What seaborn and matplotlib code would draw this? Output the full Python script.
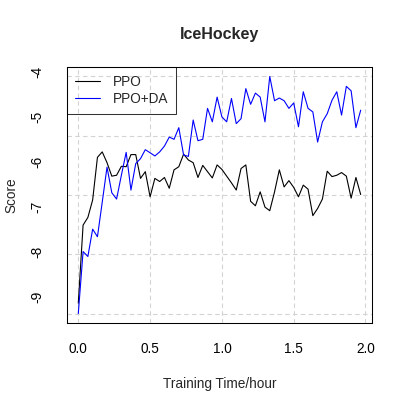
import numpy as np
import pandas as pd
import matplotlib
matplotlib.use("Agg")
import matplotlib.pyplot as plt
import seaborn as sns

# training time in minutes (one evaluation every 2 minutes)
minutes = [0, 2, 4, 6, 8, 10, 12, 14, 16, 18, 20, 22, 24, 26, 28, 30, 32, 34, 36, 38,
           40, 42, 44, 46, 48, 50, 52, 54, 56, 58, 60, 62, 64, 66, 68, 70, 72, 74, 76, 78,
           80, 82, 84, 86, 88, 90, 92, 94, 96, 98, 100, 102, 104, 106, 108, 110, 112, 114, 116, 118]

ppo = [-9.15, -7.41, -7.24, -6.85, -5.90, -5.78, -6.02, -6.32, -6.30, -6.10,
       -6.11, -5.84, -5.84, -6.37, -6.22, -6.78, -6.37, -6.44, -6.35, -6.59,
       -6.18, -6.11, -5.83, -5.96, -6.02, -6.35, -6.08, -6.22, -6.36, -6.07,
       -6.17, -6.32, -6.47, -6.63, -6.15, -6.07, -6.88, -6.98, -6.67, -7.01,
       -7.09, -6.67, -6.18, -6.56, -6.42, -6.57, -6.78, -6.52, -6.61, -7.20,
       -7.04, -6.83, -6.21, -6.33, -6.30, -6.24, -6.32, -6.81, -6.35, -6.73]

ppo_da = [-9.38, -8.00, -8.11, -7.50, -7.67, -6.90, -6.12, -6.69, -6.83, -6.30,
          -5.79, -6.63, -6.04, -5.93, -5.73, -5.80, -5.87, -5.78, -5.65, -5.45,
          -5.50, -5.24, -5.85, -5.88, -5.07, -5.53, -5.50, -4.81, -5.11, -4.56,
          -5.00, -5.11, -4.59, -5.15, -5.04, -4.37, -4.72, -4.47, -4.56, -5.11,
          -4.10, -4.64, -4.58, -4.64, -4.81, -4.69, -5.22, -4.44, -4.81, -4.89,
          -5.56, -5.11, -4.93, -4.63, -4.44, -4.96, -4.32, -4.42, -5.24, -4.85]

x_ticks = [0.0, 0.5, 1.0, 1.5, 2.0]
y_ticks = [-9, -8, -7, -6, -5, -4]

hours = np.array(minutes) / 60.0
df = pd.DataFrame({
    "hours": np.concatenate([hours, hours]),
    "score": ppo + ppo_da,
    "method": ["PPO"] * len(ppo) + ["PPO+DA"] * len(ppo_da),
})

sns.set_style("white")
plt.rcParams["font.family"] = ["Liberation Sans", "DejaVu Sans"]
plt.rcParams["axes.unicode_minus"] = False

fs = 9.8

fig = plt.figure(figsize=(4.07, 4.07), dpi=100)
ax = fig.add_axes([67 / 407, 1 - 323 / 407, 305 / 407, 256 / 407])

# R-style limits: 4% padding around the data range
xr = hours.max() - hours.min()
ymin, ymax = df["score"].min(), df["score"].max()
yr = ymax - ymin
ax.set_xlim(hours.min() - 0.04 * xr, hours.max() + 0.04 * xr)
ax.set_ylim(ymin - 0.04 * yr, ymax + 0.04 * yr)

# grid: vertical at ticks, horizontal splitting the data range in 4
grid_kw = dict(color="#d3d3d3", lw=0.8, ls=(0, (4, 3)), zorder=0)
for gx in x_ticks:
    ax.axvline(gx, **grid_kw)
for gy in np.linspace(ymin, ymax, 5):
    ax.axhline(gy, **grid_kw)

sns.lineplot(data=df, x="hours", y="score", hue="method",
             palette={"PPO": "black", "PPO+DA": "blue"},
             linewidth=0.8, ax=ax, zorder=2)

ax.set_xticks(x_ticks)
ax.set_xticklabels([f"{v:.1f}" for v in x_ticks])
ax.set_yticks(y_ticks)
ax.set_yticklabels([str(v) for v in y_ticks], rotation=90, va="center")
ax.tick_params(axis="both", direction="out", length=5, width=0.75,
               color="black", labelsize=fs, colors="black")
ax.tick_params(axis="x", pad=8.5)
ax.tick_params(axis="y", pad=11.5)

for s in ax.spines.values():
    s.set_color("black")
    s.set_linewidth(0.75)

ax.set_title("IceHockey", fontsize=11.5, fontweight="bold", pad=20)
ax.set_xlabel("Training Time/hour", fontsize=fs, labelpad=15)
ax.set_ylabel("Score", fontsize=fs, labelpad=8.5)

leg = ax.legend(loc="upper left", bbox_to_anchor=(0, 1), borderaxespad=0,
                fontsize=fs, fancybox=False, edgecolor="black",
                handlelength=1.85, handletextpad=0.9, labelspacing=0.2,
                borderpad=0.6, title=None)
leg.get_frame().set_facecolor("none")
leg.get_frame().set_linewidth(0.75)

fig.savefig("out.png", dpi=100)
